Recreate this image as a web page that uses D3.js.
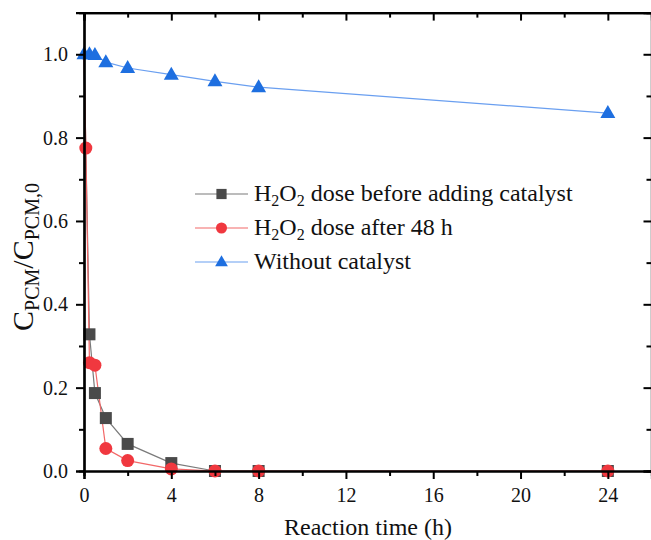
<!DOCTYPE html>
<html>
<head>
<meta charset="utf-8">
<script src="https://cdn.jsdelivr.net/npm/d3@7"></script>
</head>
<body style="margin:0">
<script>
// reaction time (h)
var timeBefore = [0, 0.25, 0.5, 1, 2, 4, 6, 8, 24];
var valBefore = [1.0, 0.328, 0.187, 0.127, 0.065, 0.019, 0.0, 0.0, 0.0];
var timeAfter = [0, 0.083, 0.25, 0.5, 1, 2, 4, 6, 8, 24];
var valAfter = [1.0, 0.775, 0.26, 0.254, 0.054, 0.025, 0.005, 0.0, 0.0, 0.0];
var timeNoCat = [0, 0.25, 0.5, 1, 2, 4, 6, 8, 24];
var valNoCat = [1.0, 1.0, 0.998, 0.981, 0.967, 0.951, 0.935, 0.921, 0.859];
var xTicks = [0, 4, 8, 12, 16, 20, 24];
var yTicks = [0, 0.2, 0.4, 0.6, 0.8, 1.0];

var svg = d3.select("body").append("svg").attr("width", 651).attr("height", 540)
  .attr("font-family", "Liberation Serif");

function serif(sel) {
  return sel.attr("font-family", "Liberation Serif").style("font-family", "'Liberation Serif'");
}

var x = d3.scaleLinear().domain([0, 26]).range([84, 651.5]);
var y = d3.scaleLinear().domain([0, 1.1]).range([471, 12.6]);

var series = [
  {name: "before", t: timeBefore, v: valBefore, line: "#7a7a7a", fill: "#4a4a4a", shape: "square"},
  {name: "after", t: timeAfter, v: valAfter, line: "#f26868", fill: "#f0383f", shape: "circle"},
  {name: "nocat", t: timeNoCat, v: valNoCat, line: "#6a9ff0", fill: "#1e6fe0", shape: "triangle"}
];

function marker(g, shape, fill, k) {
  if (shape === "square") {
    g.append("rect").attr("x", -6 * k).attr("y", -6 * k).attr("width", 12 * k).attr("height", 12 * k).attr("fill", fill);
  } else if (shape === "circle") {
    g.append("circle").attr("r", 6.5 * k).attr("fill", fill);
  } else {
    g.append("path").attr("d", "M0," + (-8 * k) + "L" + (7.5 * k) + "," + (5 * k) + "L" + (-7.5 * k) + "," + (5 * k) + "Z").attr("fill", fill);
  }
}

var line = d3.line().x(function(d) { return x(d[0]); }).y(function(d) { return y(d[1]); });

series.forEach(function(s) {
  var pts = s.t.map(function(t, i) { return [t, s.v[i]]; });
  svg.append("path").datum(pts).attr("d", line)
    .attr("fill", "none").attr("stroke", s.line).attr("stroke-width", 1.2);
});
series.forEach(function(s) {
  s.t.forEach(function(t, i) {
    // the t=0 start point is only shown for the blue series (others hidden behind it)
    if (t === 0 && s.shape !== "triangle") return;
    var g = svg.append("g").attr("transform", "translate(" + x(t) + "," + y(s.v[i]) + ")");
    marker(g, s.shape, s.fill, 1);
  });
});

// axes
var minorX = d3.range(2, 26, 4);
var minorY = [0.1, 0.3, 0.5, 0.7, 0.9];
var axes = [];
axes.push(svg.append("g").attr("transform", "translate(0," + y(0) + ")")
  .call(d3.axisBottom(x).tickValues(xTicks).tickSize(8).tickPadding(9).tickFormat(d3.format("d"))));
axes.push(svg.append("g").attr("transform", "translate(0," + y(0) + ")")
  .call(d3.axisBottom(x).tickValues(minorX).tickSize(5).tickFormat("")));
axes.push(svg.append("g").attr("transform", "translate(" + x(0) + ",0)")
  .call(d3.axisLeft(y).tickValues(yTicks).tickSize(8).tickPadding(8).tickFormat(d3.format(".1f"))));
axes.push(svg.append("g").attr("transform", "translate(" + x(0) + ",0)")
  .call(d3.axisLeft(y).tickValues(minorY).tickSize(5).tickFormat("")));
axes.push(svg.append("g").attr("transform", "translate(0," + y(1.1) + ")")
  .call(d3.axisBottom(x).tickValues(xTicks).tickSize(8).tickFormat("")));
axes.push(svg.append("g").attr("transform", "translate(0," + y(1.1) + ")")
  .call(d3.axisBottom(x).tickValues(minorX).tickSize(5).tickFormat("")));
axes.push(svg.append("g").attr("transform", "translate(" + x(26) + ",0)")
  .call(d3.axisLeft(y).tickValues(yTicks).tickSize(8).tickFormat("")));
axes.push(svg.append("g").attr("transform", "translate(" + x(26) + ",0)")
  .call(d3.axisLeft(y).tickValues(minorY).tickSize(5).tickFormat("")));
axes.forEach(function(a) { serif(a).attr("font-size", 20); });

svg.selectAll(".domain").attr("stroke", "#000").attr("stroke-width", 2.2);
svg.selectAll(".tick line").attr("stroke", "#000").attr("stroke-width", 2);
serif(svg.selectAll(".tick text")).attr("font-size", 20).attr("fill", "#111");

// axis titles
serif(svg.append("text")).attr("x", 368).attr("y", 535).attr("text-anchor", "middle")
  .attr("font-size", 24).attr("fill", "#111").text("Reaction time (h)");

var yt = serif(svg.append("text")).attr("transform", "translate(33,257) rotate(-90)")
  .attr("text-anchor", "middle").attr("font-size", 30).attr("fill", "#111");
yt.append("tspan").text("C");
yt.append("tspan").attr("font-size", 20).attr("dy", 6).text("PCM");
yt.append("tspan").attr("dy", -6).text("/C");
yt.append("tspan").attr("font-size", 20).attr("dy", 6).text("PCM,0");

// legend
var legendLabels = [
  [["H", 0], ["2", 1], ["O", 0], ["2", 1], [" dose before adding catalyst", 0]],
  [["H", 0], ["2", 1], ["O", 0], ["2", 1], [" dose after 48 h", 0]],
  [["Without catalyst", 0]]
];
var legendY = [194, 228, 262];
series.forEach(function(s, i) {
  var ly = legendY[i];
  svg.append("line").attr("x1", 195).attr("x2", 248).attr("y1", ly).attr("y2", ly)
    .attr("stroke", s.line).attr("stroke-width", 1.2);
  var g = svg.append("g").attr("transform", "translate(221.5," + ly + ")");
  marker(g, s.shape, s.fill, 0.85);
  var t = serif(svg.append("text")).attr("x", 254).attr("y", ly + 7).attr("font-size", 24).attr("fill", "#111");
  var prevSub = 0;
  legendLabels[i].forEach(function(p) {
    var ts = serif(t.append("tspan")).text(p[0]);
    if (p[1] !== prevSub) ts.attr("dy", p[1] ? 5 : -5);
    if (p[1]) ts.attr("font-size", 16);
    prevSub = p[1];
  });
});
</script>
</body>
</html>
